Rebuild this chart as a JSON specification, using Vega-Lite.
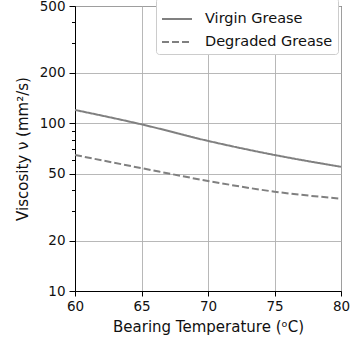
{
  "$schema": "https://vega.github.io/schema/vega-lite/v6.json",
  "width": 266,
  "height": 285,
  "autosize": {"type": "none"},
  "padding": {"left": 75, "top": 6, "right": 10, "bottom": 54},
  "config": {
    "font": "DejaVu Sans",
    "view": {"stroke": "black", "strokeWidth": 1},
    "axis": {"labelFont": "DejaVu Sans", "titleFont": "DejaVu Sans", "labelFontSize": 13.5, "titleFontSize": 15, "titleFontWeight": "normal", "labelColor": "#111", "titleColor": "#111", "domainColor": "black", "tickColor": "black", "gridColor": "#b0b0b0", "gridWidth": 0.9}
  },
  "data": {"values": [
    {"t": 60, "v": 120, "s": "Virgin Grease"},
    {"t": 65, "v": 98.5, "s": "Virgin Grease"},
    {"t": 70, "v": 78.5, "s": "Virgin Grease"},
    {"t": 75, "v": 64.7, "s": "Virgin Grease"},
    {"t": 80, "v": 55, "s": "Virgin Grease"},
    {"t": 60, "v": 64.7, "s": "Degraded Grease"},
    {"t": 65, "v": 54, "s": "Degraded Grease"},
    {"t": 70, "v": 45.3, "s": "Degraded Grease"},
    {"t": 75, "v": 39.1, "s": "Degraded Grease"},
    {"t": 80, "v": 35.5, "s": "Degraded Grease"}
  ]},
  "mark": {"type": "line", "color": "#808080", "strokeWidth": 2, "interpolate": "monotone"},
  "encoding": {
    "x": {"field": "t", "type": "quantitative", "scale": {"domain": [60, 80], "nice": false, "zero": false},
      "axis": {"values": [60, 65, 70, 75, 80], "title": "Bearing Temperature (ᵒC)", "labelPadding": 3, "titlePadding": 7, "tickSize": 5, "labelFlush": false}},
    "y": {"field": "v", "type": "quantitative", "scale": {"type": "log", "domain": [10, 500], "nice": false},
      "axis": {
        "values": [10, 20, 30, 40, 50, 60, 70, 80, 90, 100, 200, 300, 400, 500],
        "labelExpr": "indexof([10,20,50,100,200,500], datum.value) >= 0 ? datum.label : ''",
        "tickSize": {"condition": {"test": "indexof([10,20,50,100,200,500], datum.value) >= 0", "value": 6}, "value": 3.5},
        "gridOpacity": {"condition": {"test": "indexof([10,20,50,100,200,500], datum.value) >= 0", "value": 1}, "value": 0},
        "title": "Viscosity ν (mm²/s)", "labelPadding": 4, "titlePadding": 9, "labelFlush": false}},
    "strokeDash": {"field": "s", "type": "nominal", "scale": {"domain": ["Virgin Grease", "Degraded Grease"], "range": [[1, 0], [7, 3]]},
      "legend": {"title": null, "orient": "none", "legendX": 81, "legendY": -8, "fillColor": "white", "strokeColor": "#cccccc", "cornerRadius": 3, "padding": 5, "labelFontSize": 14.5, "labelFont": "DejaVu Sans", "labelColor": "#111", "labelOffset": 12, "symbolType": "stroke", "symbolSize": 900, "symbolStrokeColor": "#808080", "symbolStrokeWidth": 2, "rowPadding": -1}}
  }
}
